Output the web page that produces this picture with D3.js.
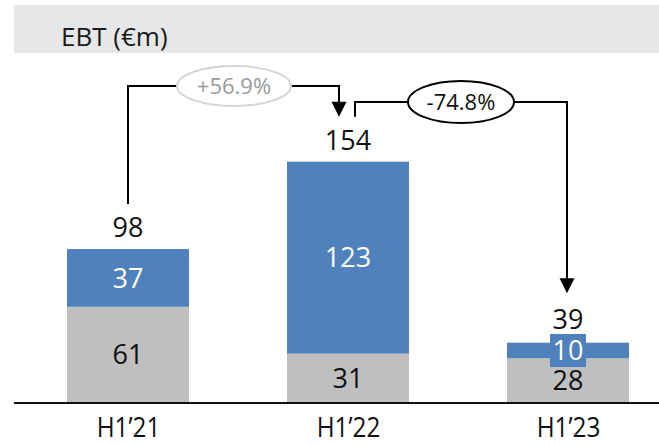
<!DOCTYPE html>
<html>
<head>
<meta charset="utf-8">
<script src="https://cdn.jsdelivr.net/npm/d3@7"></script>
<style>
  html, body { margin: 0; padding: 0; background: #fff; }
  svg { display: block; font-family: "Open Sans", "Noto Sans", sans-serif; }
</style>
</head>
<body>
<svg id="chart" width="659" height="445"></svg>
<script>
// EBT by half-year, split into two components (€m)
const periods = ["H1\u201921", "H1\u201922", "H1\u201923"];
const baseValues = [61, 31, 28];     // grey lower segment
const topValues = [37, 123, 10];     // blue upper segment
const totals = [98, 154, 39];        // stated totals
const changes = ["+56.9%", "-74.8%"];

const W = 659, H = 445;
const svg = d3.select("#chart");

const blue = "#4f81bd", grey = "#bfbfbf";
const barWidth = 122;

const x = d3.scalePoint().domain(periods).range([128, 568]);
const y = d3.scaleLinear().domain([0, 170]).range([402, 402 - 170 * 1.5606]);

// header band
svg.append("rect").attr("x", 14).attr("y", 5).attr("width", W - 14).attr("height", 48)
  .attr("fill", "#e6e7e8");
svg.append("text").attr("x", 61).attr("y", 46).attr("font-size", 26)
  .attr("fill", "#1a1a1a").text("EBT (\u20acm)");

// stacked bars
const rows = periods.map((p, i) => ({ p, base: baseValues[i], top: topValues[i], total: totals[i] }));

const g = svg.append("g");
g.selectAll("rect.base").data(rows).join("rect")
  .attr("class", "base")
  .attr("x", d => x(d.p) - barWidth / 2)
  .attr("width", barWidth)
  .attr("y", d => y(d.base))
  .attr("height", d => y(0) - y(d.base))
  .attr("fill", grey);

g.selectAll("rect.top").data(rows).join("rect")
  .attr("class", "top")
  .attr("x", d => x(d.p) - barWidth / 2)
  .attr("width", barWidth)
  .attr("y", d => y(d.base + d.top))
  .attr("height", d => y(d.base) - y(d.base + d.top))
  .attr("fill", blue);

const numSize = 27;

// grey segment labels
g.selectAll("text.base").data(rows).join("text")
  .attr("x", d => x(d.p))
  .attr("y", d => (y(0) + y(d.base)) / 2)
  .attr("dy", "0.36em")
  .attr("text-anchor", "middle")
  .attr("font-size", numSize)
  .attr("fill", "#111")
  .text(d => d.base);

// blue segment labels (a blue backing box where the segment is thinner than the text)
rows.forEach(d => {
  const cy = (y(d.base) + y(d.base + d.top)) / 2;
  const segH = y(d.base) - y(d.base + d.top);
  if (segH < 30) {
    g.append("rect")
      .attr("x", x(d.p) - 18).attr("width", 36)
      .attr("y", cy - 16.5).attr("height", 33)
      .attr("fill", blue);
  }
  g.append("text")
    .attr("x", x(d.p)).attr("y", cy).attr("dy", "0.36em")
    .attr("text-anchor", "middle").attr("font-size", numSize)
    .attr("fill", "#fff").text(d.top);
});

// totals above bars
g.selectAll("text.total").data(rows).join("text")
  .attr("x", d => x(d.p))
  .attr("y", d => y(d.total) - 12)
  .attr("text-anchor", "middle")
  .attr("font-size", numSize)
  .attr("fill", "#111")
  .text(d => d.total);

// baseline axis
const axis = d3.axisBottom(x).tickSize(0).tickPadding(16);
const ag = svg.append("g").attr("transform", `translate(0,${y(0)})`).call(axis);
ag.select(".domain").remove();
ag.selectAll("text").attr("font-size", 27).attr("fill", "#111")
  .attr("font-family", "\"Open Sans\", \"Noto Sans\", sans-serif")
  .attr("transform", "scale(0.9,1)");
svg.append("line").attr("x1", 14).attr("x2", W).attr("y1", y(0) + 1).attr("y2", y(0) + 1)
  .attr("stroke", "#111").attr("stroke-width", 2);

// change arrows
const arrow = (tipX, tipY, size) =>
  svg.append("path")
    .attr("d", `M${tipX - size / 2},${tipY - size} L${tipX + size / 2},${tipY - size} L${tipX},${tipY} Z`)
    .attr("fill", "#000");

// H1'21 -> H1'22
const x0 = x(periods[0]), x1 = x(periods[1]) - 9, x2 = x(periods[1]) + 7, x3 = x(periods[2]) - 1;
const lane1 = 86, lane2 = 102;
svg.append("path")
  .attr("d", `M${x0},${y(totals[0]) - 45} V${lane1} H${x1} V${y(totals[1]) - 58}`)
  .attr("fill", "none").attr("stroke", "#000").attr("stroke-width", 2);
arrow(x1, y(totals[1]) - 45, 15);

// H1'22 -> H1'23
svg.append("path")
  .attr("d", `M${x2},${y(totals[1]) - 45} V${lane2} H${x3} V${y(totals[2]) - 62}`)
  .attr("fill", "none").attr("stroke", "#000").attr("stroke-width", 2);
arrow(x3, y(totals[2]) - 48, 15);

// change bubbles
const bubbles = [
  { cx: 234, cy: lane1, rx: 57, ry: 20, stroke: "#d4d4d4", color: "#9a9a9a", text: changes[0] },
  { cx: 461, cy: lane2, rx: 53, ry: 21, stroke: "#000", color: "#111", text: changes[1] }
];
bubbles.forEach(b => {
  svg.append("ellipse").attr("cx", b.cx).attr("cy", b.cy).attr("rx", b.rx).attr("ry", b.ry)
    .attr("fill", "#fff").attr("stroke", b.stroke).attr("stroke-width", 2);
  svg.append("text").attr("x", b.cx).attr("y", b.cy).attr("dy", "0.36em")
    .attr("text-anchor", "middle").attr("font-size", 22).attr("fill", b.color).text(b.text);
});
</script>
</body>
</html>
